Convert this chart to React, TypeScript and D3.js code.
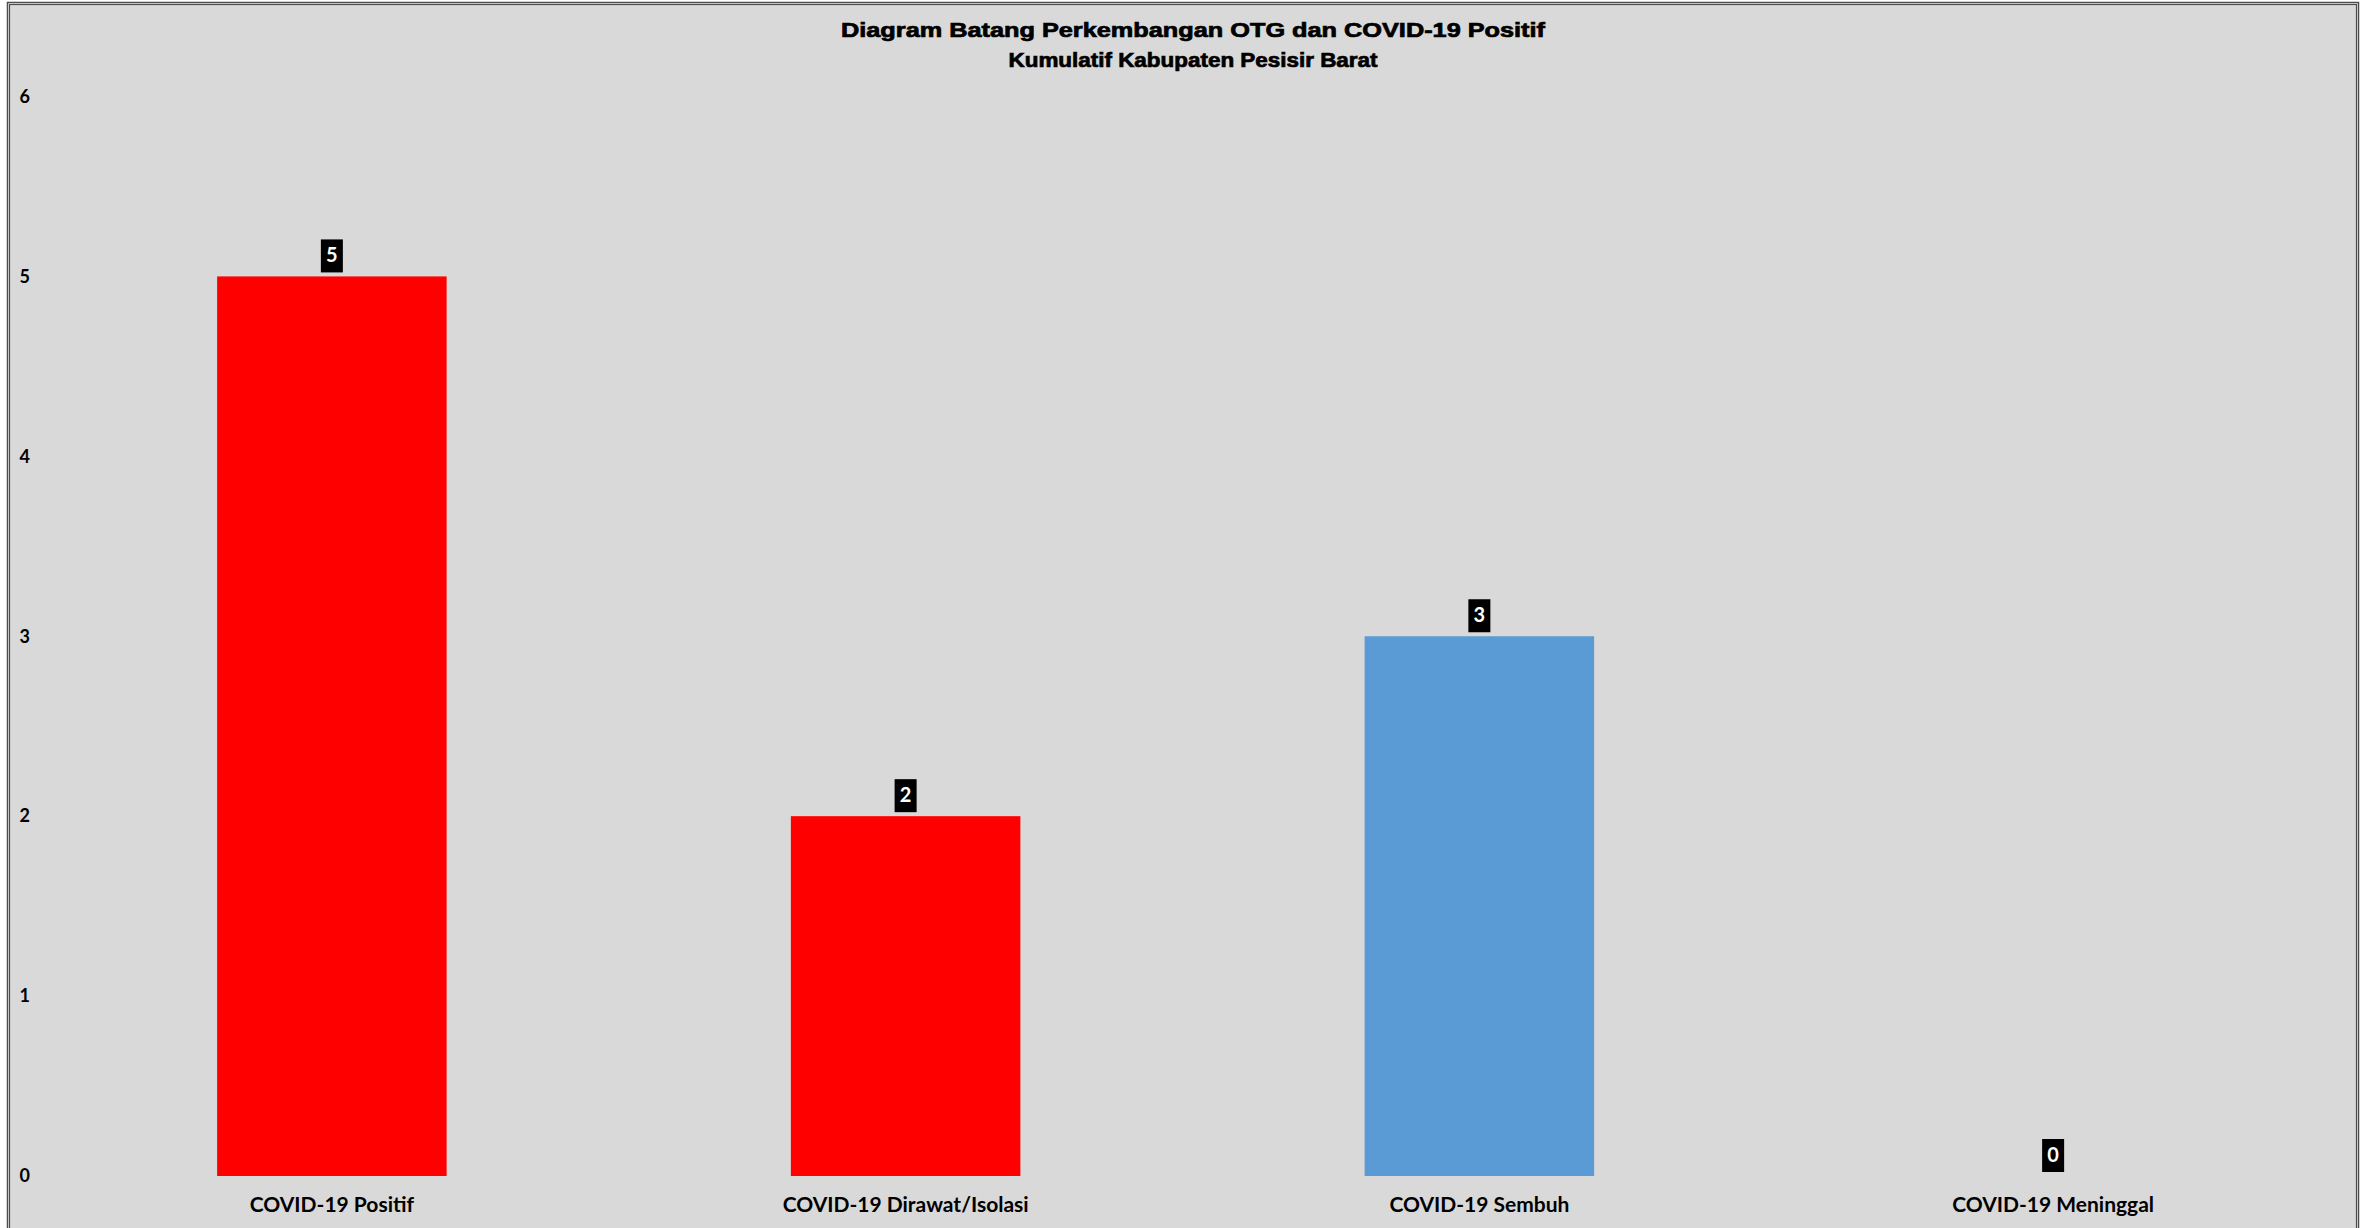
import React, { useEffect, useRef } from 'react';
import * as d3 from 'd3';

const categories = ['COVID-19 Positif', 'COVID-19 Dirawat/Isolasi', 'COVID-19 Sembuh', 'COVID-19 Meninggal'];
const values = [5, 2, 3, 0];
const barColors = ['#ff0000', '#ff0000', '#5b9bd5', '#5b9bd5'];
const yTicks = [0, 1, 2, 3, 4, 5, 6];
const titleLines = ['Diagram Batang Perkembangan OTG dan COVID-19 Positif', 'Kumulatif Kabupaten Pesisir Barat'];
const titleWidths = [704, 369];

const W = 2371;
const H = 1228;

const App: React.FC = () => {
  const svgRef = useRef<SVGSVGElement>(null);

  useEffect(() => {
    if (!svgRef.current) return;
    const svg = d3.select(svgRef.current);
    svg.selectAll('*').remove();

    const font = 'Lato, "Noto Sans", sans-serif';

    // page + chart area
    svg.append('rect').attr('width', W).attr('height', H).attr('fill', '#ffffff');
    svg.append('rect')
      .attr('x', 9).attr('y', 4).attr('width', 2348).attr('height', H)
      .attr('fill', '#d9d9d9');

    // double frame
    svg.append('rect')
      .attr('x', 7.5).attr('y', 2.5).attr('width', 2351).attr('height', H + 10)
      .attr('fill', 'none').attr('stroke', '#4d4d4d').attr('stroke-width', 1.5);
    svg.append('rect')
      .attr('x', 9.5).attr('y', 4.5).attr('width', 2347).attr('height', H + 10)
      .attr('fill', 'none').attr('stroke', '#4d4d4d').attr('stroke-width', 1.2);

    const x = d3.scaleBand()
      .domain(categories)
      .range([45, 2340])
      .paddingInner(0.6)
      .paddingOuter(0.3);

    const y = d3.scaleLinear().domain([0, 6]).range([1176, 96.5]);

    // Title
    svg.selectAll('.title')
      .data(titleLines)
      .enter()
      .append('text')
      .attr('class', 'title')
      .attr('x', 1193)
      .attr('y', (_, i) => 37 + i * 30)
      .attr('text-anchor', 'middle')
      .attr('font-family', '"Liberation Sans", Arial, sans-serif')
      .attr('font-weight', 'bold')
      .attr('font-size', '20px')
      .attr('fill', '#000')
      .attr('stroke', '#000')
      .attr('stroke-width', 0.7)
      .attr('textLength', (_, i) => titleWidths[i])
      .attr('lengthAdjust', 'spacingAndGlyphs')
      .text(d => d);

    // Y axis labels
    const yAxisG = svg.append('g')
      .attr('transform', 'translate(30,0)')
      .call(d3.axisLeft(y).tickValues(yTicks).tickSize(0).tickPadding(0).tickFormat(d3.format('d')));
    yAxisG.select('.domain').remove();
    yAxisG.selectAll('text')
      .attr('fill', '#000')
      .attr('font-size', '18px')
      .attr('font-weight', 'bold')
      .attr('font-family', font);

    // X axis labels
    const xAxisG = svg.append('g')
      .attr('transform', `translate(0,${y(0)})`)
      .call(d3.axisBottom(x).tickSize(0).tickPadding(21));
    xAxisG.select('.domain').remove();
    xAxisG.selectAll('text')
      .attr('fill', '#000')
      .attr('font-size', '21px')
      .attr('font-weight', 'bold')
      .attr('font-family', font);

    // Bars
    svg.selectAll('.bar')
      .data(values)
      .enter()
      .append('rect')
      .attr('class', 'bar')
      .attr('x', (_, i) => x(categories[i]) || 0)
      .attr('y', d => y(d))
      .attr('width', x.bandwidth())
      .attr('height', d => y(0) - y(d))
      .attr('fill', (_, i) => barColors[i]);

    // Data labels
    const lab = svg.selectAll('.lab')
      .data(values)
      .enter()
      .append('g')
      .attr('class', 'lab')
      .attr('transform', (d, i) => `translate(${(x(categories[i]) || 0) + x.bandwidth() / 2},${y(d) - 4})`);

    lab.append('rect')
      .attr('x', -11)
      .attr('y', -33)
      .attr('width', 22)
      .attr('height', 33)
      .attr('fill', '#000');

    lab.append('text')
      .attr('x', 0)
      .attr('y', -10)
      .attr('text-anchor', 'middle')
      .attr('fill', '#fff')
      .attr('font-size', '20px')
      .attr('font-weight', 'bold')
      .attr('font-family', font)
      .text(d => d);
  }, []);

  return (
    <svg
      ref={svgRef}
      width={W}
      height={H}
      style={{ position: 'absolute', left: 0, top: 0, display: 'block' }}
    />
  );
};

export default App;
